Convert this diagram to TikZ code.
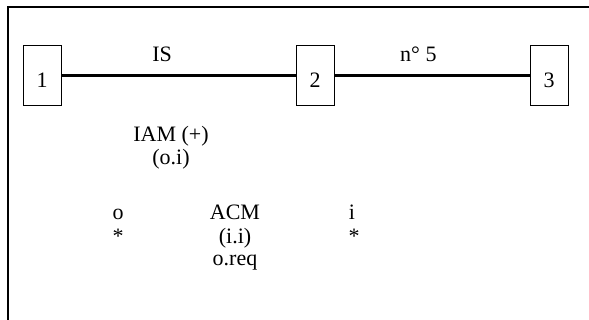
\documentclass[tikz,border=0pt]{standalone}
\usepackage{fontspec}
\setmainfont{Liberation Serif}
\begin{document}
\begin{tikzpicture}
		[x=1pt,y=-1pt,
		font=\fontsize{22}{26}\selectfont,
		station/.style = {shape=rectangle, draw, line width=1pt, minimum width=38pt, minimum height=60pt, inner sep=0pt, text height=24pt, text depth=0pt},
		link/.style = {line width=3pt},
		linklabel/.style = {pos=.43, anchor=base, yshift=14pt, inner sep=0pt},
		msg/.style = {anchor=base, inner sep=0pt}]
	\useasboundingbox (0,0) rectangle (589,320);
	% frame
	\draw[line width=1.5pt] (8,320) -- (8,7) -- (589,7);
	% stations
	\node[station,name=1] at (42,76) {1};
	\node[station,name=2] at (315,76) {2};
	\node[station,name=3] at (549,76) {3};
	\draw[link] (1) -- node[linklabel]{IS} (2);
	\draw[link] (2) -- node[linklabel]{n° 5} (3);
	% messages
	\node[msg,name=iam] at (171,142) {IAM (+)};
	\node[msg,name=oi] at (171,165) {(o.i)};
	\node[msg,name=o] at (118,220) {o};
	\node[msg,name=acm] at (235,220) {ACM};
	\node[msg,name=i] at (352,220) {i};
	\node[msg,name=s1] at (118,244) {*};
	\node[msg,name=ii] at (235,244) {(i.i)};
	\node[msg,name=s2] at (354,244) {*};
	\node[msg,name=oreq] at (235,266) {o.req};
\end{tikzpicture}
\end{document}
